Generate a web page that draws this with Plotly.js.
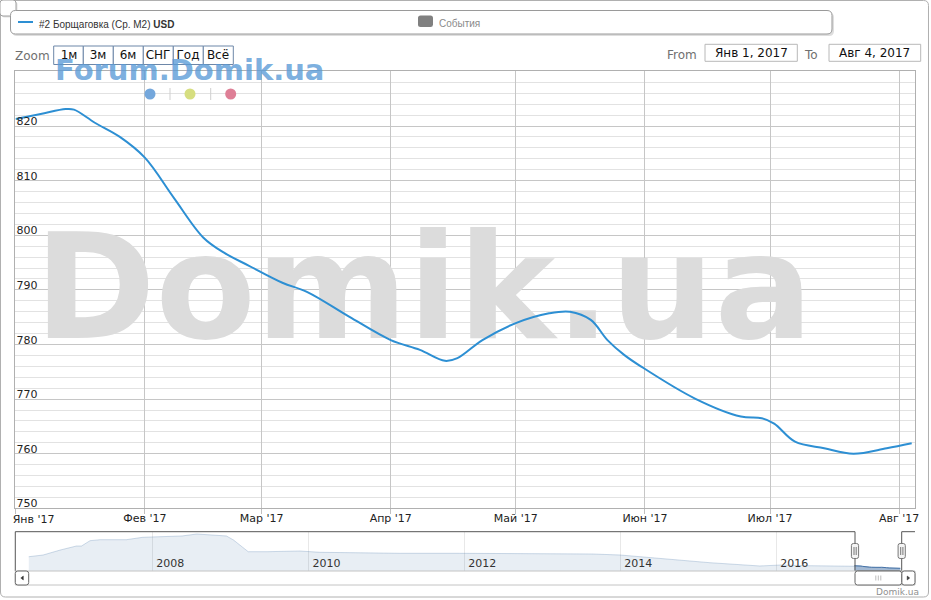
<!DOCTYPE html>
<html><head><meta charset="utf-8">
<script src="https://cdn.plot.ly/plotly-3.0.1.min.js"></script>
<style>html,body{margin:0;padding:0;background:#fff;overflow:hidden}#chart{width:931px;height:600px}</style>
</head><body><div id="chart"></div>
<script>
// ---- data ----
const dates = ['2017-01-01','2017-01-07','2017-01-13','2017-01-15','2017-01-20','2017-01-26','2017-02-01','2017-02-08','2017-02-15','2017-02-20','2017-02-26','2017-03-06','2017-03-12','2017-03-22','2017-04-01','2017-04-08','2017-04-14','2017-04-17','2017-04-23','2017-05-01','2017-05-09','2017-05-14','2017-05-19','2017-05-23','2017-05-27','2017-05-31','2017-06-13','2017-06-24','2017-06-29','2017-07-02','2017-07-07','2017-07-14','2017-07-21','2017-07-29','2017-08-04'];
const values = [821.3,822.2,823.1,823.0,820.6,818.0,814.2,806.8,799.6,796.8,794.4,791.3,789.6,785.1,780.8,779.0,777.0,777.5,780.8,783.9,785.7,786.0,784.5,780.8,778.1,776.0,770.1,766.8,766.5,765.5,762.2,761.0,760.0,761.0,761.9];
const navDates = ['2006-06-01','2006-08-07','2006-10-27','2007-01-10','2007-02-03','2007-03-15','2007-05-01','2007-09-01','2007-11-17','2008-03-07','2008-05-19','2008-07-27','2008-09-27','2008-12-13','2009-01-15','2009-03-25','2009-06-21','2009-11-20','2010-02-24','2010-10-01','2011-03-07','2011-12-10','2012-10-20','2013-08-25','2014-01-01','2014-07-05','2015-02-24','2015-10-16','2016-01-20','2016-06-06','2016-11-10'];
const navValues = [1027,1066,1181,1272,1272,1394,1417,1417,1472,1486,1502,1547,1524,1502,1410,1142,1142,1158,1128,1105,1105,1105,1105,1089,1066,991,890,815,837,821,815];
const monthTicks = ['2017-01-01','2017-02-01','2017-03-01','2017-04-01','2017-05-01','2017-06-01','2017-07-01','2017-08-01'];
const monthLabels = ["Янв '17","Фев '17","Мар '17","Апр '17","Май '17","Июн '17","Июл '17","Авг '17"];
const yTicks = [750, 760, 770, 780, 790, 800, 810, 820, 830];
const yLabels = ['750', '760', '770', '780', '790', '800', '810', '820', ''];
const yearTicks = ['2008-01-01','2010-01-01','2012-01-01','2014-01-01','2016-01-01'];
const yearLabels = ['2008','2010','2012','2014','2016'];
const zoomButtons = ['1м','3м','6м','СНГ','Год','Всё'];
const seriesName = '#2 Борщаговка (Ср. М2)';
const currency = 'USD';
const eventsLabel = 'События';
const fromLabel = 'Янв 1, 2017';
const toLabel = 'Авг 4, 2017';
const watermark = 'Domik.ua';
const forumMark = 'Forum.Domik.ua';

// ---- geometry helpers (pixels -> paper) ----
const W = 931, H = 600;
const px = x => x / W, py = y => 1 - y / H;
const L = 15.3, R = 915, T = 71.4, B = 508.3, NT = 531.7, NB = 571, SB = 585;
const P = (x, y) => px(x).toFixed(5) + ',' + py(y).toFixed(5);
function rr(x0, y0, x1, y1, r) {
  return `M${P(x0 + r, y0)} L${P(x1 - r, y0)} Q${P(x1, y0)} ${P(x1, y0 + r)} L${P(x1, y1 - r)} Q${P(x1, y1)} ${P(x1 - r, y1)} L${P(x0 + r, y1)} Q${P(x0, y1)} ${P(x0, y1 - r)} L${P(x0, y0 + r)} Q${P(x0, y0)} ${P(x0 + r, y0)} Z`;
}
const pathShape = (path, line, fill, width) => ({type: 'path', xref: 'paper', yref: 'paper', path, line: {color: line, width: width === undefined ? 1 : width}, fillcolor: fill || 'rgba(0,0,0,0)', layer: 'above'});
const rectShape = (x0, y0, x1, y1, line, fill, width) => ({type: 'rect', xref: 'paper', yref: 'paper', x0: px(x0), x1: px(x1), y0: py(y1), y1: py(y0), line: {color: line, width: width === undefined ? 1 : width}, fillcolor: fill || 'rgba(0,0,0,0)', layer: 'above'});
const lineShape = (x0, y0, x1, y1, color, width) => ({type: 'line', xref: 'paper', yref: 'paper', x0: px(x0), x1: px(x1), y0: py(y0), y1: py(y1), line: {color, width: width || 1}, layer: 'above'});
const ann = (text, x, y, xanchor, size, color, family, weight, extra) => Object.assign({text, x: px(x), y: py(y), xref: 'paper', yref: 'paper', xanchor, yanchor: 'middle', showarrow: false, font: {size, color, family: family || 'DejaVu Sans', weight: weight || 'normal'}}, extra || {});

const mainColor = '#2d8fd3';
const xRange = ['2016-12-31 22:00', '2017-08-04 19:00'];

const traces = [
  // watermark text: drawn above the grid, below the data line
  {type: 'scatter', mode: 'text', x: ['2017-04-08 22:00'], y: [787.8], text: [watermark], textposition: 'middle center',
    textfont: {family: 'DejaVu Sans', size: 146, color: '#dcdcdc', weight: 'bold'}, xaxis: 'x', yaxis: 'y', hoverinfo: 'skip', cliponaxis: false},
  {type: 'scatter', mode: 'lines', x: dates, y: values, xaxis: 'x', yaxis: 'y', line: {color: mainColor, width: 2, shape: 'spline', smoothing: 1}, hoverinfo: 'skip'},
  {type: 'scatter', mode: 'lines', x: navDates.concat(dates), y: navValues.concat(values), xaxis: 'x2', yaxis: 'y2', fill: 'tozeroy', fillcolor: 'rgba(69,114,167,0.12)', line: {color: 'rgba(69,114,167,0.25)', width: 1}, hoverinfo: 'skip'},
  {type: 'scatter', mode: 'lines', x: dates, y: values, xaxis: 'x2', yaxis: 'y2', fill: 'tozeroy', fillcolor: 'rgba(69,114,167,0.42)', line: {color: '#4572a7', width: 1}, hoverinfo: 'skip'},
  // empty trace so the overlay axis carrying the first month label is drawn
  {type: 'scatter', mode: 'lines', x: [], y: [], xaxis: 'x3', yaxis: 'y', hoverinfo: 'skip'}
];

const shapes = [];
// outer border
shapes.push(pathShape(rr(0.5, 0.5, 928.5, 597, 5), '#b0b0b0', null));
// top-left small box
shapes.push(pathShape(rr(1.5, 1.5, 17.5, 17.5, 3), 'rgba(0,0,0,0)', 'rgba(0,0,0,0.12)', 0));
shapes.push(pathShape(rr(0, 0, 16, 16, 3), '#a0a0a0', '#ffffff'));
// legend box with shadow
shapes.push(pathShape(rr(12, 12.5, 834, 36, 5), 'rgba(0,0,0,0)', 'rgba(0,0,0,0.13)', 0));
shapes.push(pathShape(rr(10.5, 10.5, 832, 34, 5), '#9a9a9a', '#ffffff'));
shapes.push(lineShape(18, 22, 33, 22, mainColor, 2));
shapes.push(pathShape(rr(418, 15.5, 433, 27, 2.5), '#808080', '#808080', 0));
// zoom buttons
const bx = [53.7, 83.3, 113.3, 143.3, 173.3, 203.3, 233.3];
for (let i = 0; i < zoomButtons.length; i++) shapes.push(rectShape(bx[i], 46, bx[i + 1], 64.5, '#6d87a8', '#ffffff'));
// date inputs
shapes.push(rectShape(705, 44.3, 797.3, 61.3, '#b8b8b8', '#ffffff'));
shapes.push(rectShape(829, 44.3, 920.7, 61.3, '#b8b8b8', '#ffffff'));
// dots and separators
const dotColors = ['#74a7dc', '#d6de80', '#de7f96'];
const dotX = [150, 190, 230.7];
dotColors.forEach((c, i) => shapes.push({type: 'circle', xref: 'paper', yref: 'paper', x0: px(dotX[i] - 5.5), x1: px(dotX[i] + 5.5), y0: py(94 + 5.5), y1: py(94 - 5.5), fillcolor: c, line: {width: 0}, layer: 'above'}));
shapes.push(lineShape(170, 88, 170, 100, '#cfcfcf', 1));
shapes.push(lineShape(210.7, 88, 210.7, 100, '#cfcfcf', 1));
// navigator outline
shapes.push(pathShape(`M${P(L, NB)} L${P(L, NT)} L${P(855, NT)} L${P(855, NB)} L${P(901.7, NB)} L${P(901.7, NT)} L${P(R, NT)}`, '#555555', null, 1));
// scrollbar
shapes.push(rectShape(L, NB, R, SB, '#c4c4c4', '#ffffff'));
shapes.push(pathShape(rr(L, NB, 28.7, SB, 2.5), '#666666', '#ffffff'));
shapes.push(pathShape(rr(901.7, NB, R, SB, 2.5), '#666666', '#ffffff'));
shapes.push(pathShape(rr(855, NB, 901.7, SB, 2.5), '#666666', '#ffffff'));
shapes.push(pathShape(`M${P(23.3, 576)} L${P(23.3, 580)} L${P(20.8, 578)} Z`, '#333', '#333', 0.5));
shapes.push(pathShape(`M${P(907.2, 576)} L${P(907.2, 580)} L${P(909.7, 578)} Z`, '#333', '#333', 0.5));
[875.8, 878.3, 880.8].forEach(x => shapes.push(lineShape(x, 575.5, x, 580.5, '#bdbdbd', 1)));
// handles
[855, 901.7].forEach(cx => {
  shapes.push(pathShape(rr(cx - 3.6, 543.5, cx + 3.6, 558.5, 2), '#777777', '#f4f4f4'));
  shapes.push(lineShape(cx - 1, 547, cx - 1, 555, '#777', 1));
  shapes.push(lineShape(cx + 1.2, 547, cx + 1.2, 555, '#777', 1));
});

const annotations = [
  ann(seriesName + ' <b>' + currency + '</b>', 37, 24.3, 'left', 10, '#333333', 'Liberation Sans'),
  ann(eventsLabel, 437, 23, 'left', 10, '#8a8a8a', 'Liberation Sans'),
  ann('Zoom', 32.5, 56, 'center', 12, '#707070'),
  ann('From', 681.5, 55, 'center', 12, '#707070'),
  ann('To', 811, 55, 'center', 12, '#707070'),
  ann(fromLabel, 751.2, 53.3, 'center', 12, '#111111'),
  ann(toLabel, 874.9, 53.3, 'center', 12, '#111111'),
  ann(forumMark, 53, 70, 'left', 29, 'rgba(90,155,215,0.8)', 'DejaVu Sans', 'bold'),
  ann('Domik.ua', 921, 591.5, 'right', 9, '#909090')
];
zoomButtons.forEach((t, i) => annotations.push(ann(t, (bx[i] + bx[i + 1]) / 2, 55.3, 'center', 12, '#111111', 'DejaVu Sans', 'normal', {width: 26, borderpad: 0})));

const tickFont = {family: 'DejaVu Sans', size: 11, color: '#222222'};
const layout = {
  width: W, height: H,
  margin: {l: 0, r: 0, t: 0, b: 0, pad: 0},
  paper_bgcolor: '#ffffff', plot_bgcolor: 'rgba(0,0,0,0)',
  showlegend: false, hovermode: false,
  font: {family: 'DejaVu Sans', size: 11, color: '#333333'},
  xaxis: {type: 'date', domain: [px(L), px(R)], anchor: 'y', range: xRange,
    tickmode: 'array', tickvals: monthTicks, ticktext: monthLabels.map((t, i) => i === 0 ? '' : t), ticks: 'outside', ticklen: 5, tickcolor: '#c0c0c0',
    ticklabelstandoff: -6, ticklabeloverflow: 'allow',
    showgrid: true, gridcolor: '#c6c6c6', gridwidth: 1, showline: true, mirror: true, linecolor: '#b0b0b0', linewidth: 1, zeroline: false,
    tickfont: tickFont, fixedrange: true},
  xaxis3: {type: 'date', overlaying: 'x', domain: [px(L), px(R)], anchor: 'y', side: 'bottom', range: xRange,
    tickmode: 'array', tickvals: [monthTicks[0]], ticktext: [monthLabels[0]], ticks: '', ticklabelposition: 'outside right',
    ticklabelstandoff: 3, ticklabelshift: -3, ticklabeloverflow: 'allow',
    showgrid: false, showline: false, zeroline: false, tickfont: tickFont, fixedrange: true},
  yaxis: {domain: [py(B), py(T)], anchor: 'x', range: [750, 830], tickmode: 'array', tickvals: yTicks, ticktext: yLabels,
    ticklabelposition: 'inside top', ticklabelshift: 3, ticklabeloverflow: 'allow', ticks: '', showgrid: true, gridcolor: '#c6c6c6', gridwidth: 1,
    minor: {tickmode: 'linear', tick0: 750, dtick: 2, showgrid: true, gridcolor: '#e2e2e2', gridwidth: 1},
    showline: true, mirror: true, linecolor: '#b0b0b0', linewidth: 1, zeroline: false,
    tickfont: tickFont, fixedrange: true},
  xaxis2: {type: 'date', domain: [px(L), px(R)], anchor: 'y2', range: ['2006-03-30', '2017-10-12'],
    tickmode: 'array', tickvals: yearTicks, ticktext: yearLabels, ticklabelposition: 'inside right', ticks: '',
    ticklabelstandoff: -4, ticklabelshift: 4,
    showgrid: true, gridcolor: '#e8e8e8', showline: false, zeroline: false,
    tickfont: {family: 'DejaVu Sans', size: 11, color: '#333333'}, fixedrange: true},
  yaxis2: {domain: [py(NB), py(NT)], anchor: 'x2', range: [700, 1600], visible: false, showgrid: false, zeroline: false, fixedrange: true},
  shapes, annotations
};

Plotly.newPlot('chart', traces, layout, {displayModeBar: false, staticPlot: true});
</script></body></html>
